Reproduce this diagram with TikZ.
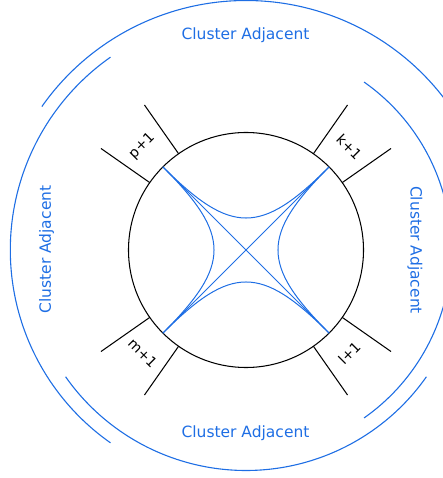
\documentclass[tikz,border=0pt]{standalone}
\usepackage{fontspec}
\setmainfont{DejaVu Sans}
\definecolor{cablue}{RGB}{30,110,228}
\tikzset{
  bluearc/.style={draw=cablue, line width=1.1pt},
  bluecurve/.style={draw=cablue, line width=1pt},
  legline/.style={draw=black, line width=1.05pt},
  bigtext/.style={text=cablue, font=\fontsize{15.5}{18}\selectfont, inner sep=0pt},
  legtext/.style={text=black, font=\fontsize{14}{16}\selectfont, inner sep=0pt},
}
\begin{document}
\begin{tikzpicture}[x=1pt,y=1pt]
\useasboundingbox (-246,-228) rectangle (197,250);
\clip (-246,-228) rectangle (197,250);
% outer blue arcs
\draw[bluearc] (144.9:249.5pt) arc[start angle=144.9, end angle=35.1, radius=249.5pt];
\draw[bluearc] (54.9:205.3pt) arc[start angle=54.9, end angle=-54.9, radius=205.3pt];
\draw[bluearc] (215.1:220.5pt) arc[start angle=215.1, end angle=324.9, radius=220.5pt];
\draw[bluearc] (125.1:235.7pt) arc[start angle=125.1, end angle=234.9, radius=235.7pt];
% labels
\node[bigtext] (ctop) at (-0.5,215) {Cluster Adjacent};
\node[bigtext] (cbot) at (-0.5,-183) {Cluster Adjacent};
\node[bigtext, rotate=90] (cleft) at (-199.5,0.5) {Cluster Adjacent};
\node[bigtext, rotate=-90] (cright) at (169,0) {Cluster Adjacent};
% central disc
\node[circle, draw, line width=1.05pt, minimum size=235pt, inner sep=0pt, outer sep=0pt] (disc) at (0,0) {};
% legs
\foreach \a in {125,145,35,55,215,235,305,325}{
  \coordinate (leg\a) at (\a:177pt);
  \draw[legline] (disc.\a) -- (leg\a);
}
\node[legtext, rotate=45] (lp) at (135:147pt) {p+1};
\node[legtext, rotate=-45] (lk) at (45:146pt) {k+1};
\node[legtext, rotate=-45] (lm) at (225:146pt) {m+1};
\node[legtext, rotate=45] (ll) at (315:146pt) {l+1};
% blue curves inside
\coordinate (cA) at (0.18*83.08,0.18*83.08);
\coordinate (cB) at (-0.18*83.08,0.18*83.08);
\coordinate (cC) at (-0.18*83.08,-0.18*83.08);
\coordinate (cD) at (0.18*83.08,-0.18*83.08);
\draw[bluecurve] (disc.135) -- (disc.315);
\draw[bluecurve] (disc.45) -- (disc.225);
\draw[bluecurve] (disc.135) .. controls (cB) and (cA) .. (disc.45);
\draw[bluecurve] (disc.45) .. controls (cA) and (cD) .. (disc.315);
\draw[bluecurve] (disc.315) .. controls (cD) and (cC) .. (disc.225);
\draw[bluecurve] (disc.225) .. controls (cC) and (cB) .. (disc.135);
\end{tikzpicture}
\end{document}
